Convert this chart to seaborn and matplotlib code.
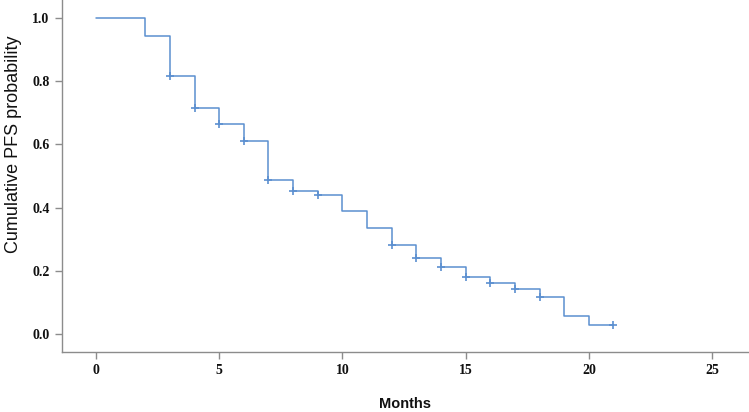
import matplotlib
matplotlib.use("Agg")
import matplotlib.pyplot as plt
import seaborn as sns
import pandas as pd

# Kaplan-Meier step data
months = [0, 2, 3, 4, 5, 6, 7, 8, 9, 10, 11, 12, 13, 14, 15, 16, 17, 18, 19, 20, 21]
pfs_prob = [1.0, 0.944, 0.817, 0.714, 0.664, 0.612, 0.487, 0.453, 0.440, 0.388,
            0.334, 0.283, 0.242, 0.212, 0.180, 0.161, 0.142, 0.118, 0.058, 0.029, 0.029]
censor_months = [3, 4, 5, 6, 7, 8, 9, 12, 13, 14, 15, 16, 17, 18, 21]
censor_prob = [0.817, 0.714, 0.664, 0.612, 0.487, 0.453, 0.440, 0.283, 0.242,
               0.212, 0.180, 0.161, 0.142, 0.118, 0.029]
x_ticks = [0, 5, 10, 15, 20, 25]
y_ticks = [0.0, 0.2, 0.4, 0.6, 0.8, 1.0]

sns.set_theme(style="white")
line_color = "#5b8fd0"
axis_color = "#8c8c8c"

fig = plt.figure(figsize=(7.49, 4.12), dpi=100)
ax = fig.add_axes([62 / 749, 1 - 352 / 412, 1 - 62 / 749, 352 / 412])

df = pd.DataFrame({"Months": months, "PFS": pfs_prob})
cdf = pd.DataFrame({"Months": censor_months, "PFS": censor_prob})
sns.lineplot(data=df, x="Months", y="PFS", drawstyle="steps-post", estimator=None,
             color=line_color, linewidth=1.1, ax=ax)
sns.scatterplot(data=cdf, x="Months", y="PFS", marker="+", s=32, linewidth=1.2,
                color=line_color, ax=ax, zorder=3)

ax.set_xlim(-1.38, 26.5)
ax.set_ylim(-0.057, 1.057)
ax.set_xticks(x_ticks)
ax.set_yticks(y_ticks)
ax.set_xticklabels([str(t) for t in x_ticks])
ax.set_yticklabels([f"{t:.1f}" for t in y_ticks])

for side in ["top", "right"]:
    ax.spines[side].set_visible(False)
for side in ["left", "bottom"]:
    ax.spines[side].set_color(axis_color)
    ax.spines[side].set_linewidth(1.0)

ax.tick_params(axis="both", which="major", direction="out", length=5, width=1,
               color=axis_color, labelcolor="#111111", bottom=True, left=True, pad=4)
for lab in ax.get_xticklabels() + ax.get_yticklabels():
    lab.set_fontfamily("Liberation Serif")
    lab.set_fontsize(10)
    lab.set_fontweight("bold")

ax.set_xlabel("Months", fontfamily="Liberation Sans", fontsize=10.5,
              fontweight="bold", color="#111111", labelpad=14)
ax.set_ylabel("Cumulative PFS probability", fontfamily="Liberation Sans",
              fontsize=13, color="#111111")
ax.yaxis.set_label_coords(-0.058, 0.59)

fig.savefig("out.png", dpi=100)
